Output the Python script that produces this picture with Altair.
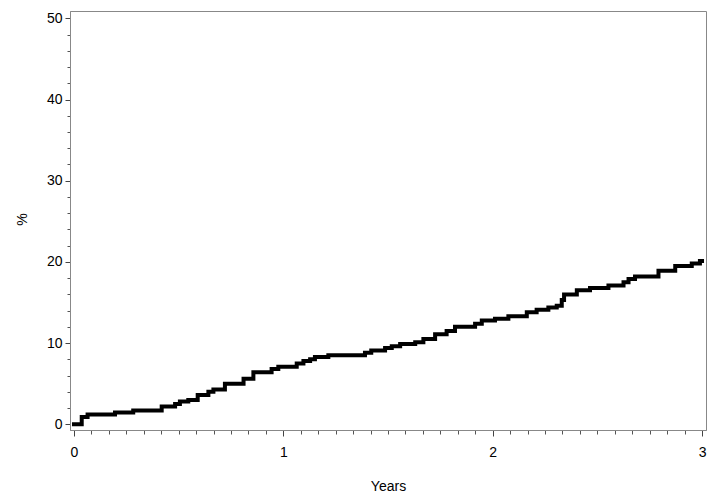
import altair as alt
import pandas as pd

# Step-function (cumulative incidence)
years = [0, 0.037, 0.065, 0.196, 0.283, 0.419, 0.483, 0.506, 0.546, 0.591, 0.642,
         0.666, 0.721, 0.81, 0.857, 0.944, 0.976, 1.064, 1.096, 1.128, 1.151,
         1.215, 1.39, 1.42, 1.486, 1.518, 1.558, 1.63, 1.669, 1.725, 1.78, 1.82,
         1.916, 1.948, 2.011, 2.075, 2.163, 2.21, 2.266, 2.306, 2.33, 2.341,
         2.402, 2.465, 2.553, 2.625, 2.649, 2.68, 2.792, 2.872, 2.951, 2.99, 3.0]
percent = [0, 0.9, 1.2, 1.45, 1.7, 2.2, 2.5, 2.8, 3.0, 3.6, 4.0,
           4.3, 5.0, 5.6, 6.4, 6.8, 7.1, 7.5, 7.8, 8.0, 8.3,
           8.5, 8.8, 9.1, 9.4, 9.6, 9.9, 10.1, 10.5, 11.1, 11.5, 12.0,
           12.4, 12.8, 13.0, 13.3, 13.8, 14.1, 14.4, 14.6, 15.3, 16.0,
           16.5, 16.8, 17.1, 17.5, 17.9, 18.2, 18.9, 19.5, 19.8, 20.1, 20.1]

x_major = [0, 1, 2, 3]
x_minor = [i / 12 for i in range(0, 37)]
y_major = [0, 10, 20, 30, 40, 50]
y_minor = list(range(0, 51, 2))

df = pd.DataFrame({"Years": years, "pct": percent})

FONT = "Liberation Sans"
x_scale = alt.Scale(domain=[-0.019, 3.019], nice=False, zero=False)
y_scale = alt.Scale(domain=[-0.7, 50.9], nice=False, zero=False)

base = alt.Chart(df)

minor = base.mark_line(opacity=0).encode(
    x=alt.X("Years:Q", scale=x_scale,
            axis=alt.Axis(orient="bottom", values=x_minor, labels=False, title=None,
                          tickSize=4, tickColor="#555555", domain=False, grid=False)),
    y=alt.Y("pct:Q", scale=y_scale,
            axis=alt.Axis(orient="left", values=y_minor, labels=False, title=None,
                          tickSize=3, tickColor="#555555", domain=False, grid=False)),
)

major = base.mark_line(interpolate="step-after", color="black", strokeWidth=4,
                       strokeCap="square").encode(
    x=alt.X("Years:Q", scale=x_scale,
            axis=alt.Axis(orient="bottom", values=x_major, format="d", title="Years",
                          tickSize=6, tickColor="#444444", domainColor="#888888",
                          labelFont=FONT, labelFontSize=14, labelColor="black",
                          labelPadding=9, labelFlush=False,
                          titleFont=FONT, titleFontSize=14, titleFontWeight="normal",
                          titleColor="black", titleBaseline="alphabetic", titleY=60,
                          grid=False)),
    y=alt.Y("pct:Q", scale=y_scale,
            axis=alt.Axis(orient="left", values=y_major, format="d", title="%",
                          tickSize=5, tickColor="#444444", domainColor="#888888",
                          labelFont=FONT, labelFontSize=14, labelColor="black",
                          labelPadding=3, labelFlush=False,
                          titleFont=FONT, titleFontSize=14, titleFontWeight="normal",
                          titleColor="black", titleAngle=270, titleAlign="center",
                          titleBaseline="middle", titleX=-48, titleY=208,
                          grid=False)),
)

chart = alt.layer(minor, major).resolve_axis(x="independent", y="independent").properties(
    width=636,
    height=419,
    autosize=alt.AutoSizeParams(type="none"),
    padding={"left": 62, "top": 3, "right": 4, "bottom": 62},
    background="white",
).configure_view(stroke="#888888", strokeWidth=1)

chart.save("out.html", embed_options={"renderer": "svg", "actions": False})
